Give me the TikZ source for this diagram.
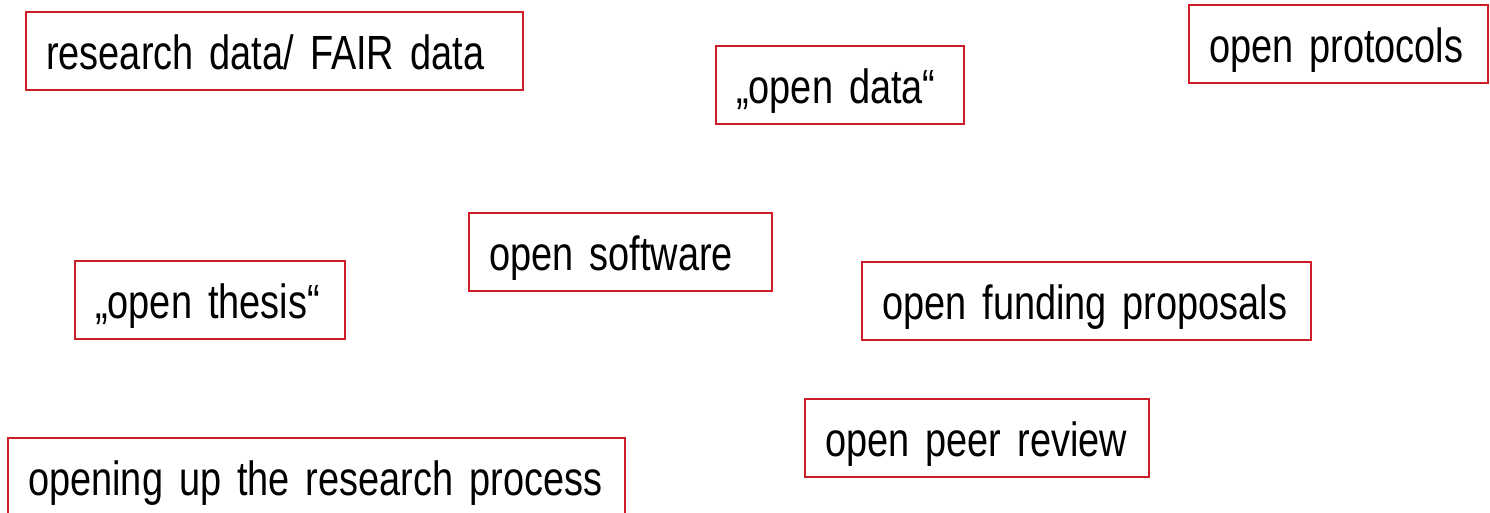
\documentclass[tikz,border=0pt]{standalone}
\usepackage{fontspec}
\setmainfont{Liberation Sans}[FakeStretch=0.79]
\usepackage{xcolor}
\usepackage{tikz}
\usetikzlibrary{positioning}
\definecolor{boxred}{RGB}{204,28,40}
\newcommand{\termfont}{\fontsize{24}{28}\selectfont\spaceskip=3.2pt\relax}

\begin{document}
\begin{tikzpicture}[x=0.5pt, y=-0.5pt]
    \tikzstyle{term} = [rectangle, draw=boxred, line width=1.2pt, anchor=north west, align=left, font=\termfont, inner xsep=10pt, inner ysep=0pt, minimum height=39pt, text height=18pt, text depth=0pt]
    \useasboundingbox (0,0) rectangle (1490,513);

    % Top row
    \node [term, text width=228.5pt] (fair) at (25,11) {\mbox{research data/ FAIR data}};
    \node [term, text width=104pt] (opendata) at (715,45) {\mbox{„open data“}};
    \node [term, text width=129.5pt] (protocols) at (1188,4) {\mbox{open protocols}};

    % Middle row
    \node [term, text width=131.5pt] (software) at (468,212) {\mbox{open software}};
    \node [term, text width=115pt] (thesis) at (74,260) {\mbox{„open thesis“}};
    \node [term, text width=204.5pt] (funding) at (861,261) {\mbox{open funding proposals}};

    % Bottom row
    \node [term, text width=152pt] (review) at (804,398) {\mbox{open peer review}};
    \node [term, text width=288.5pt] (process) at (7,437) {\mbox{opening up the research process}};
\end{tikzpicture}
\end{document}
